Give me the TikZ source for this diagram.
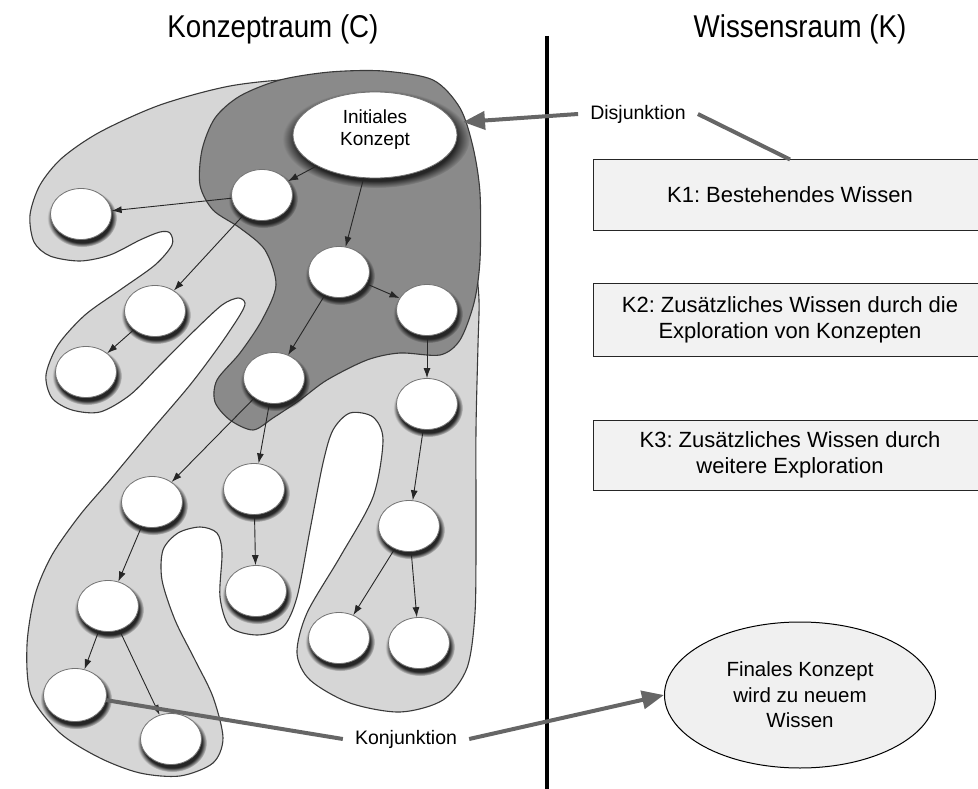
\documentclass[tikz,border=0pt]{standalone}
\usepackage{fontspec}
\setmainfont{Liberation Sans}
\newfontfamily\headfont[FakeStretch=0.88]{Liberation Sans}
\usetikzlibrary{arrows.meta,shapes.geometric,shadows,fadings}
\definecolor{lightblob}{HTML}{D6D6D6}
\definecolor{darkblob}{HTML}{8A8A8A}
\definecolor{blobline}{HTML}{3A3A3A}
\definecolor{linkgray}{HTML}{666666}
\definecolor{boxfill}{HTML}{F2F2F2}
\definecolor{finalfill}{HTML}{F0F0F0}
\frenchspacing
\begin{document}
\begin{tikzpicture}[x=1pt,y=-1pt,
  concept/.style={ellipse, draw=black!55, line width=0.8pt, fill=white, inner sep=0pt,
    minimum width=61pt, minimum height=51pt,
    circular drop shadow={shadow scale=1.14, shadow xshift=1pt, shadow yshift=-3.5pt, fill=black!85}},
  flow/.style={-{Latex[length=10pt,width=7pt]}, line width=0.9pt, black!85},
  link/.style={linkgray, line width=4pt},
  linkarrow/.style={link, -{Triangle[length=22pt,width=18pt]}},
  knowbox/.style={draw=black!85, line width=1pt, fill=boxfill, minimum width=394pt,
    align=center, font=\fontsize{22}{26}\selectfont},
  tag/.style={font=\fontsize{19.5}{22}\selectfont, inner xsep=12pt},
  heading/.style={font=\headfont\fontsize{31.5}{36}\selectfont, anchor=base},
  blob/.style={draw=blobline, line width=1.1pt},
]
\useasboundingbox (0,0) rectangle (978,789);

% concept space: outer (explored) region
\draw[blob, fill=lightblob] plot[smooth cycle, tension=0.5] coordinates {
 (370,82) (425,88) (450,110) (463,150) (470,200) (475,255) (479,300) (478,345) (476,430) (476,530)
 (475,613) (467,668) (443,700) (400,712) (350,703) (310,680) (297,653) (307,613)
 (340,557) (373,497) (383,440) (373,417) (350,413) (333,430) (323,463) (310,530)
 (297,597) (283,627) (257,635) (230,627) (220,597) (222,553) (217,533) (200,527)
 (178,533) (163,550) (162,580) (175,620) (195,660) (213,697) (223,738) (213,763)
 (180,776) (140,773) (100,758) (60,733) (31,695) (27,645) (35,595) (52,555)
 (80,515) (110,480) (150,432) (190,385) (220,345) (240,315) (245,303) (238,298)
 (222,305) (195,330) (160,365) (130,395) (100,412) (72,410) (52,398) (46,375)
 (58,345) (85,315) (120,290) (155,265) (172,245) (170,233) (160,232) (140,240)
 (110,255) (80,261) (50,256) (34,242) (30,215) (40,185) (62,158) (100,132)
 (160,105) (230,86) (300,79)};

% concept space: inner (initial) region
\draw[blob, fill=darkblob] plot[smooth cycle, tension=0.5] coordinates {
 (330,72) (383,71) (433,80) (460,108) (473,147) (480,193) (480,260) (474,303)
 (460,340) (440,355) (400,353) (367,360) (327,380) (300,400) (273,418) (253,430)
 (230,420) (215,402) (217,380) (240,353) (262,320) (276,285) (265,250) (240,228)
 (213,210) (200,185) (202,150) (215,118) (240,96) (280,80)};

% concepts
\node[concept, minimum width=164pt, minimum height=86pt] (init) at (375,135) {};
\node[font=\fontsize{19}{22}\selectfont, align=center] (initlabel) at (375,130) {Initiales\\Konzept};
\node[concept] (va) at (262,195) {};
\node[concept] (vb) at (81,214) {};
\node[concept] (vc) at (339,272) {};
\node[concept] (vd) at (427,310) {};
\node[concept] (ve) at (155,311) {};
\node[concept] (vf) at (86,372) {};
\node[concept] (vg) at (274,378) {};
\node[concept] (vh) at (427,404) {};
\node[concept] (vi) at (152,502) {};
\node[concept] (vj) at (254,489) {};
\node[concept] (vk) at (409,526) {};
\node[concept] (vl) at (256,591) {};
\node[concept] (vm) at (108,606) {};
\node[concept] (vn) at (339,638) {};
\node[concept] (vo) at (419,643) {};
\node[concept, minimum width=63pt, minimum height=53pt] (vp) at (75,695) {};
\node[concept] (vq) at (171,739) {};

% derivations
\draw[flow] (init) -- (va);
\draw[flow] (init) -- (vc);
\draw[flow] (va) -- (vb);
\draw[flow] (va) -- (ve);
\draw[flow] (vc) -- (vd);
\draw[flow] (vc) -- (vg);
\draw[flow] (vd) -- (vh);
\draw[flow] (ve) -- (vf);
\draw[flow] (vg) -- (vi);
\draw[flow] (vg) -- (vj);
\draw[flow] (vh) -- (vk);
\draw[flow] (vj) -- (vl);
\draw[flow] (vi) -- (vm);
\draw[flow] (vk) -- (vn);
\draw[flow] (vk) -- (vo);
\draw[flow] (vm) -- (vp);
\draw[flow] (vm) -- (vq);

% headings and divider
\node[heading] (titleC) at (273,38) {Konzeptraum (C)};
\node[heading] (titleK) at (800,38) {Wissensraum (K)};
\coordinate (divtop) at (547,36);
\coordinate (divbot) at (547,792);
\draw[line width=3.5pt] (divtop) -- (divbot);

% knowledge space
\node[knowbox, minimum height=70pt] (k1) at (790,195) {K1: Bestehendes Wissen};
\node[knowbox, minimum height=73pt] (k2) at (790,319.5) {K2: Zusätzliches Wissen durch die\\Exploration von Konzepten};
\node[knowbox, minimum height=70pt] (k3) at (790,455) {K3: Zusätzliches Wissen durch\\weitere Exploration};
\node[ellipse, draw=black, line width=1pt, fill=finalfill, minimum width=271pt,
  minimum height=146pt, align=center, font=\fontsize{20.5}{25.5}\selectfont]
  (final) at (800,695) {Finales Konzept\\wird zu neuem\\Wissen};

% disjunction and conjunction
\node[tag] (disj) at (638,114) {Disjunktion};
\coordinate (disjtip) at (463,122);
\draw[linkarrow] (disj.west) -- (disjtip);
\draw[link] (disj.east) -- (k1.north);

\node[tag] (konj) at (406,739) {Konjunktion};
\draw[link] (vp) -- (konj.west);
\draw[linkarrow] (konj.east) -- (final.west);
\end{tikzpicture}
\end{document}
